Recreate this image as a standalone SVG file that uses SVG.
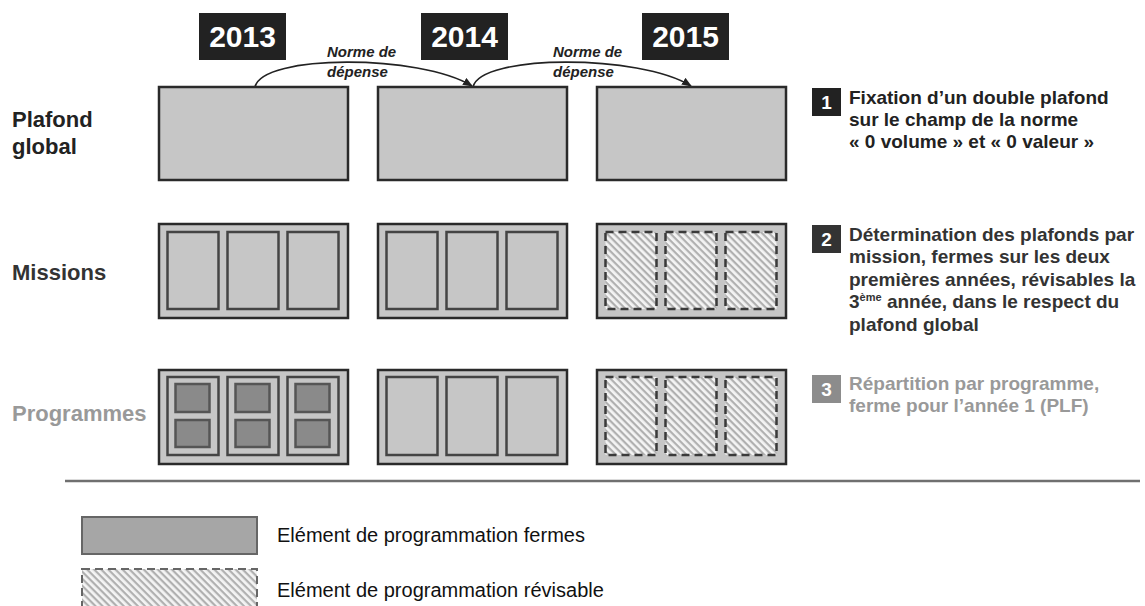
<svg xmlns="http://www.w3.org/2000/svg" width="1145" height="606" viewBox="0 0 1145 606">
<style>
text{font-family:"Liberation Sans",Arial,sans-serif}
.yr{fill:#222}
.yt{fill:#fff;font-weight:bold;font-size:30px;text-anchor:middle}
.norm{font-style:italic;font-weight:bold;font-size:15px;fill:#222}
.outer{fill:#c6c6c6;stroke:#2a2a2a;stroke-width:2.5}
.inner{fill:#c6c6c6;stroke:#444;stroke-width:2.5}
.small{fill:#8a8a8a;stroke:#555;stroke-width:2.5}
.rev{fill:url(#hatch);stroke:#3a3a3a;stroke-width:2.5;stroke-dasharray:8 5}
.row{font-weight:bold;font-size:22px}
.desc{font-weight:bold;font-size:19px}
.num{fill:#fff;font-weight:bold;font-size:19px;text-anchor:middle}
.conn{fill:none;stroke:#222;stroke-width:1.6;marker-end:url(#ah)}
.leg{font-size:20px;fill:#111}
</style>
<defs>
<pattern id="hatch" patternUnits="userSpaceOnUse" width="5" height="5" patternTransform="rotate(45)">
<rect width="5" height="5" fill="#f4f4f4"/>
<rect width="5" height="2.2" fill="#b0b0b0"/>
</pattern>
<marker id="ah" markerWidth="10" markerHeight="8" refX="9" refY="4" orient="auto" markerUnits="userSpaceOnUse">
<path d="M0,0 L10,4 L0,8 Z" fill="#222"/>
</marker>
</defs>

<g id="years">
<g id="y2013"><rect class="yr" x="199" y="13" width="87" height="47"/><text class="yt" x="242.5" y="47">2013</text></g>
<g id="y2014"><rect class="yr" x="421" y="13" width="87" height="47"/><text class="yt" x="464.5" y="47">2014</text></g>
<g id="y2015"><rect class="yr" x="642" y="13" width="87" height="47"/><text class="yt" x="685.5" y="47">2015</text></g>
</g>

<g id="connectors">
<path class="conn" d="M255,87 C262,54 420,54 472,86"/>
<path class="conn" d="M473,87 C480,54 640,54 691,86"/>
<text class="norm" x="327" y="57">Norme de</text>
<text class="norm" x="327" y="77">dépense</text>
<text class="norm" x="553" y="57">Norme de</text>
<text class="norm" x="553" y="77">dépense</text>
</g>

<g id="row-labels">
<text class="row" x="12" y="127" fill="#222">Plafond</text>
<text class="row" x="12" y="154" fill="#222">global</text>
<text class="row" x="12" y="280" fill="#333">Missions</text>
<text class="row" x="12" y="421" fill="#999">Programmes</text>
</g>

<g id="plafond">
<rect class="outer" x="159" y="87" width="189" height="93"/>
<rect class="outer" x="378" y="87" width="189" height="93"/>
<rect class="outer" x="597" y="87" width="189" height="93"/>
</g>

<g id="missions">
<rect class="outer" x="159" y="224" width="189" height="94"/>
<rect class="inner" x="167.5" y="232" width="51" height="77"/>
<rect class="inner" x="227.5" y="232" width="51" height="77"/>
<rect class="inner" x="287.5" y="232" width="51" height="77"/>
<rect class="outer" x="378" y="224" width="189" height="94"/>
<rect class="inner" x="386.5" y="232" width="51" height="77"/>
<rect class="inner" x="446.5" y="232" width="51" height="77"/>
<rect class="inner" x="506.5" y="232" width="51" height="77"/>
<rect class="outer" x="597" y="224" width="189" height="94"/>
<rect class="rev" x="605.5" y="232" width="51" height="77"/>
<rect class="rev" x="665.5" y="232" width="51" height="77"/>
<rect class="rev" x="725.5" y="232" width="51" height="77"/>
</g>

<g id="programmes">
<rect class="outer" x="159" y="370" width="189" height="94"/>
<rect class="inner" x="167.5" y="377" width="51" height="78"/>
<rect class="inner" x="227.5" y="377" width="51" height="78"/>
<rect class="inner" x="287.5" y="377" width="51" height="78"/>
<rect class="small" x="175.5" y="384" width="34" height="28"/>
<rect class="small" x="175.5" y="420" width="34" height="27"/>
<rect class="small" x="235.5" y="384" width="34" height="28"/>
<rect class="small" x="235.5" y="420" width="34" height="27"/>
<rect class="small" x="295.5" y="384" width="34" height="28"/>
<rect class="small" x="295.5" y="420" width="34" height="27"/>
<rect class="outer" x="378" y="370" width="189" height="94"/>
<rect class="inner" x="386.5" y="377" width="51" height="78"/>
<rect class="inner" x="446.5" y="377" width="51" height="78"/>
<rect class="inner" x="506.5" y="377" width="51" height="78"/>
<rect class="outer" x="597" y="370" width="189" height="94"/>
<rect class="rev" x="605.5" y="377" width="51" height="78"/>
<rect class="rev" x="665.5" y="377" width="51" height="78"/>
<rect class="rev" x="725.5" y="377" width="51" height="78"/>
</g>

<g id="note1">
<rect x="812" y="88" width="29" height="28" fill="#222"/>
<text class="num" x="826.5" y="109">1</text>
<text class="desc" fill="#222"><tspan x="849" y="104">Fixation d’un double plafond</tspan><tspan x="849" y="126">sur le champ de la norme</tspan><tspan x="849" y="148">« 0 volume » et « 0 valeur »</tspan></text>
</g>

<g id="note2">
<rect x="812" y="225" width="29" height="28" fill="#333"/>
<text class="num" x="826.5" y="246">2</text>
<text class="desc" fill="#333"><tspan x="849" y="241">Détermination des plafonds par</tspan><tspan x="849" y="263">mission, fermes sur les deux</tspan><tspan x="849" y="286">premières années, révisables la</tspan><tspan x="849" y="308">3<tspan font-size="11" dy="-7">ème</tspan><tspan dy="7"> année, dans le respect du</tspan></tspan><tspan x="849" y="331">plafond global</tspan></text>
</g>

<g id="note3">
<rect x="812" y="375" width="29" height="28" fill="#8c8c8c"/>
<text class="num" x="826.5" y="396">3</text>
<text class="desc" fill="#999"><tspan x="849" y="390">Répartition par programme,</tspan><tspan x="849" y="412">ferme pour l’année 1 (PLF)</tspan></text>
</g>

<line x1="65" y1="481" x2="1140" y2="481" stroke="#707070" stroke-width="2.5"/>

<g id="legend">
<rect x="82" y="517" width="175" height="37" fill="#a6a6a6" stroke="#666" stroke-width="2"/>
<text class="leg" x="277" y="542">Elément de programmation fermes</text>
<rect x="82" y="569" width="175" height="40" fill="url(#hatch)" stroke="#666" stroke-width="2" stroke-dasharray="8 5"/>
<text class="leg" x="277" y="597">Elément de programmation révisable</text>
</g>
</svg>
